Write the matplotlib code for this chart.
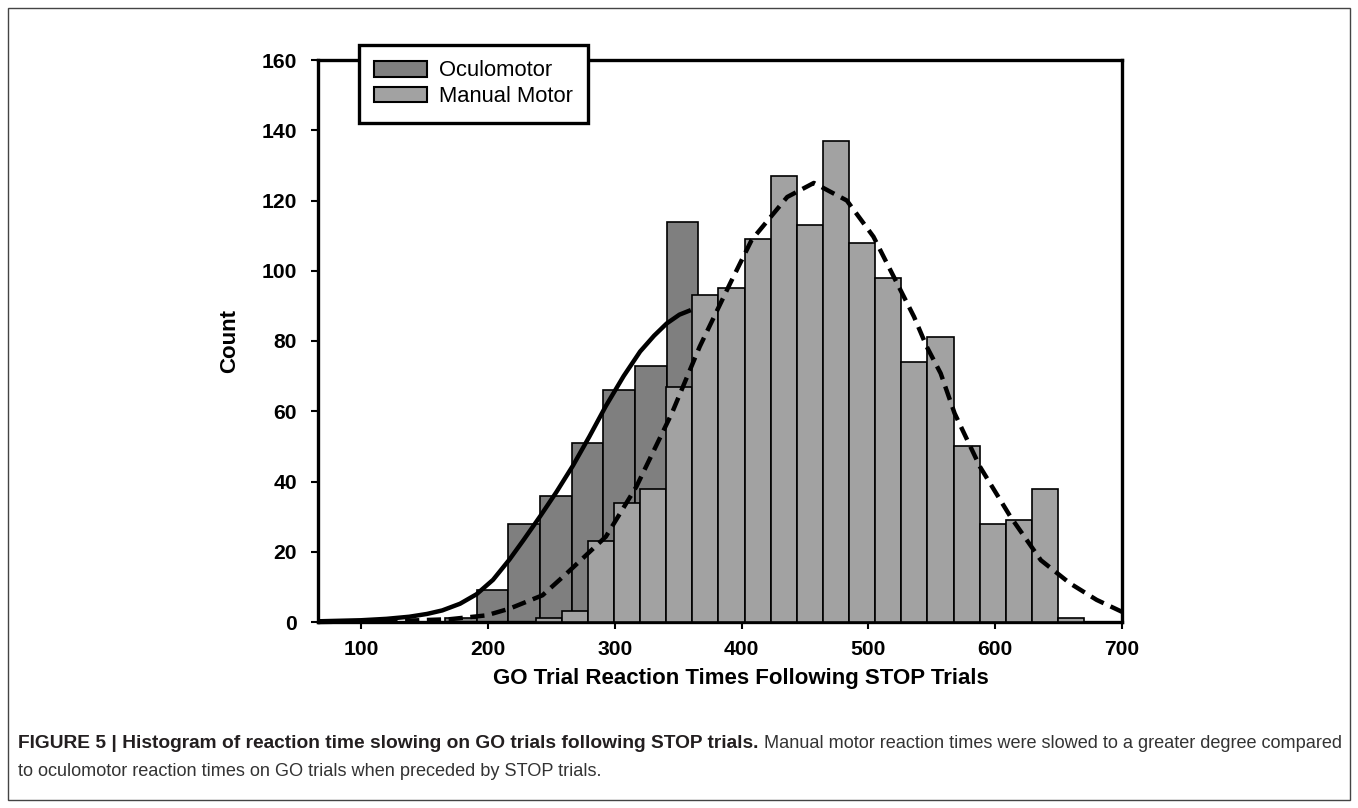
import matplotlib
matplotlib.use('Agg')
import matplotlib.pyplot as plt
from matplotlib.patches import Patch, Rectangle

plt.rcParams['font.family'] = ['Liberation Sans', 'DejaVu Sans']

# histogram data (bin left edges in ms, counts)
oculo_bin_left = [166, 191, 216, 241, 266, 291, 316, 341]
oculo_counts = [1, 9, 28, 36, 51, 66, 73, 114]
oculo_bin_width = 25

manual_bin_left = [237.6, 258.2, 278.8, 299.4, 320.0, 340.6, 361.2, 381.8, 402.4,
                   423.0, 443.6, 464.2, 484.8, 505.4, 526.0, 546.6, 567.2, 587.8,
                   608.4, 629.0, 649.6]
manual_counts = [1, 3, 23, 34, 38, 67, 93, 95, 109, 127, 113, 137, 108, 98,
                 74, 81, 50, 28, 29, 38, 1]
manual_bin_width = 20.6

# fitted curves
oculo_fit_x = [66, 100, 120, 138, 152, 164, 178, 191, 204, 217, 228, 241, 254,
               267, 280, 293, 307, 320, 331, 341, 351, 360]
oculo_fit_y = [0.2, 0.5, 0.9, 1.5, 2.3, 3.3, 5.2, 7.9, 12.0, 17.8, 23.3, 30, 37,
               44.5, 52.8, 61.5, 70, 77, 81.5, 85, 87.5, 88.8]
manual_fit_x = [66, 130, 170, 199, 217, 243, 262, 293, 317, 345, 367, 391, 408,
                436, 457, 483, 504, 520, 536, 546, 557, 568, 588, 612, 636, 659,
                680, 700]
manual_fit_y = [0.0, 0.3, 0.8, 1.9, 3.8, 7.6, 13.8, 24.3, 38.5, 59.4, 78.4, 96.4,
                108.8, 121, 125, 120, 109.7, 98.3, 86.9, 78.4, 70.8, 59.4, 44.2,
                30, 17.6, 11, 6.3, 2.9]

x_ticks = [100, 200, 300, 400, 500, 600, 700]
y_ticks = [0, 20, 40, 60, 80, 100, 120, 140, 160]

fig = plt.figure(figsize=(13.58, 8.08), dpi=100)
ax = fig.add_axes([318 / 1358, 1 - 622 / 808, 804 / 1358, 562 / 808])

ax.bar(oculo_bin_left, oculo_counts, width=oculo_bin_width, align='edge',
       color='#7f7f7f', edgecolor='black', linewidth=1.2, zorder=2)
ax.bar(manual_bin_left, manual_counts, width=manual_bin_width, align='edge',
       color='#a2a2a2', edgecolor='black', linewidth=1.2, zorder=3)
ax.plot(oculo_fit_x, oculo_fit_y, color='black', lw=3.2, zorder=4,
        solid_capstyle='butt', solid_joinstyle='round')
ax.plot(manual_fit_x, manual_fit_y, color='black', lw=3.2, zorder=5,
        dashes=(3.2, 1.7), dash_capstyle='butt', clip_on=False)

ax.set_xlim(66, 700)
ax.set_ylim(0, 160)
ax.set_xticks(x_ticks)
ax.set_yticks(y_ticks)
for s in ax.spines.values():
    s.set_linewidth(2.4)
ax.tick_params(axis='both', direction='out', length=5, width=1.5,
               labelsize=15.2, top=False, right=False)
ax.tick_params(axis='y', pad=10)
ax.tick_params(axis='x', pad=8)
for lab in ax.get_xticklabels() + ax.get_yticklabels():
    lab.set_fontweight('bold')

ax.set_xlabel('GO Trial Reaction Times Following STOP Trials', fontsize=16,
              fontweight='bold')
ax.xaxis.set_label_coords(0.526, -0.082)
ax.set_ylabel('Count', fontsize=16, fontweight='bold')
ax.yaxis.set_label_coords(-0.097, 0.5)

handles = [Patch(facecolor='#7f7f7f', edgecolor='black', linewidth=1.5, label='Oculomotor'),
           Patch(facecolor='#a2a2a2', edgecolor='black', linewidth=1.5, label='Manual Motor')]
leg = ax.legend(handles=handles, loc='upper left',
                bbox_to_anchor=(359 / 1358, 1 - 45 / 808), bbox_transform=fig.transFigure,
                fancybox=False, edgecolor='black', framealpha=1, borderaxespad=0,
                fontsize=15.8, handlelength=2.4, handleheight=0.72, handletextpad=0.55,
                labelspacing=0.22, borderpad=0.7)
leg.get_frame().set_linewidth(2.4)
leg.set_zorder(10)

# outer frame and caption
fig.patches.append(Rectangle((8 / 1358, 8 / 808), 1342 / 1358, 792 / 808,
                             transform=fig.transFigure, fill=False,
                             edgecolor='#444444', linewidth=1))
bold = fig.text(18 / 1358, 1 - 744 / 808,
                'FIGURE 5 | Histogram of reaction time slowing on GO trials following STOP trials.',
                fontsize=13.8, fontweight='bold', color='#231f20', va='center')
fig.canvas.draw()
bb = bold.get_window_extent(fig.canvas.get_renderer())
fig.text(bb.x1 / 1358 + 5 / 1358, 1 - 744 / 808,
         'Manual motor reaction times were slowed to a greater degree compared',
         fontsize=13.1, color='#333333', va='center')
fig.text(18 / 1358, 1 - 772 / 808,
         'to oculomotor reaction times on GO trials when preceded by STOP trials.',
         fontsize=13.1, color='#333333', va='center')

plt.savefig('out.png', dpi=100)
